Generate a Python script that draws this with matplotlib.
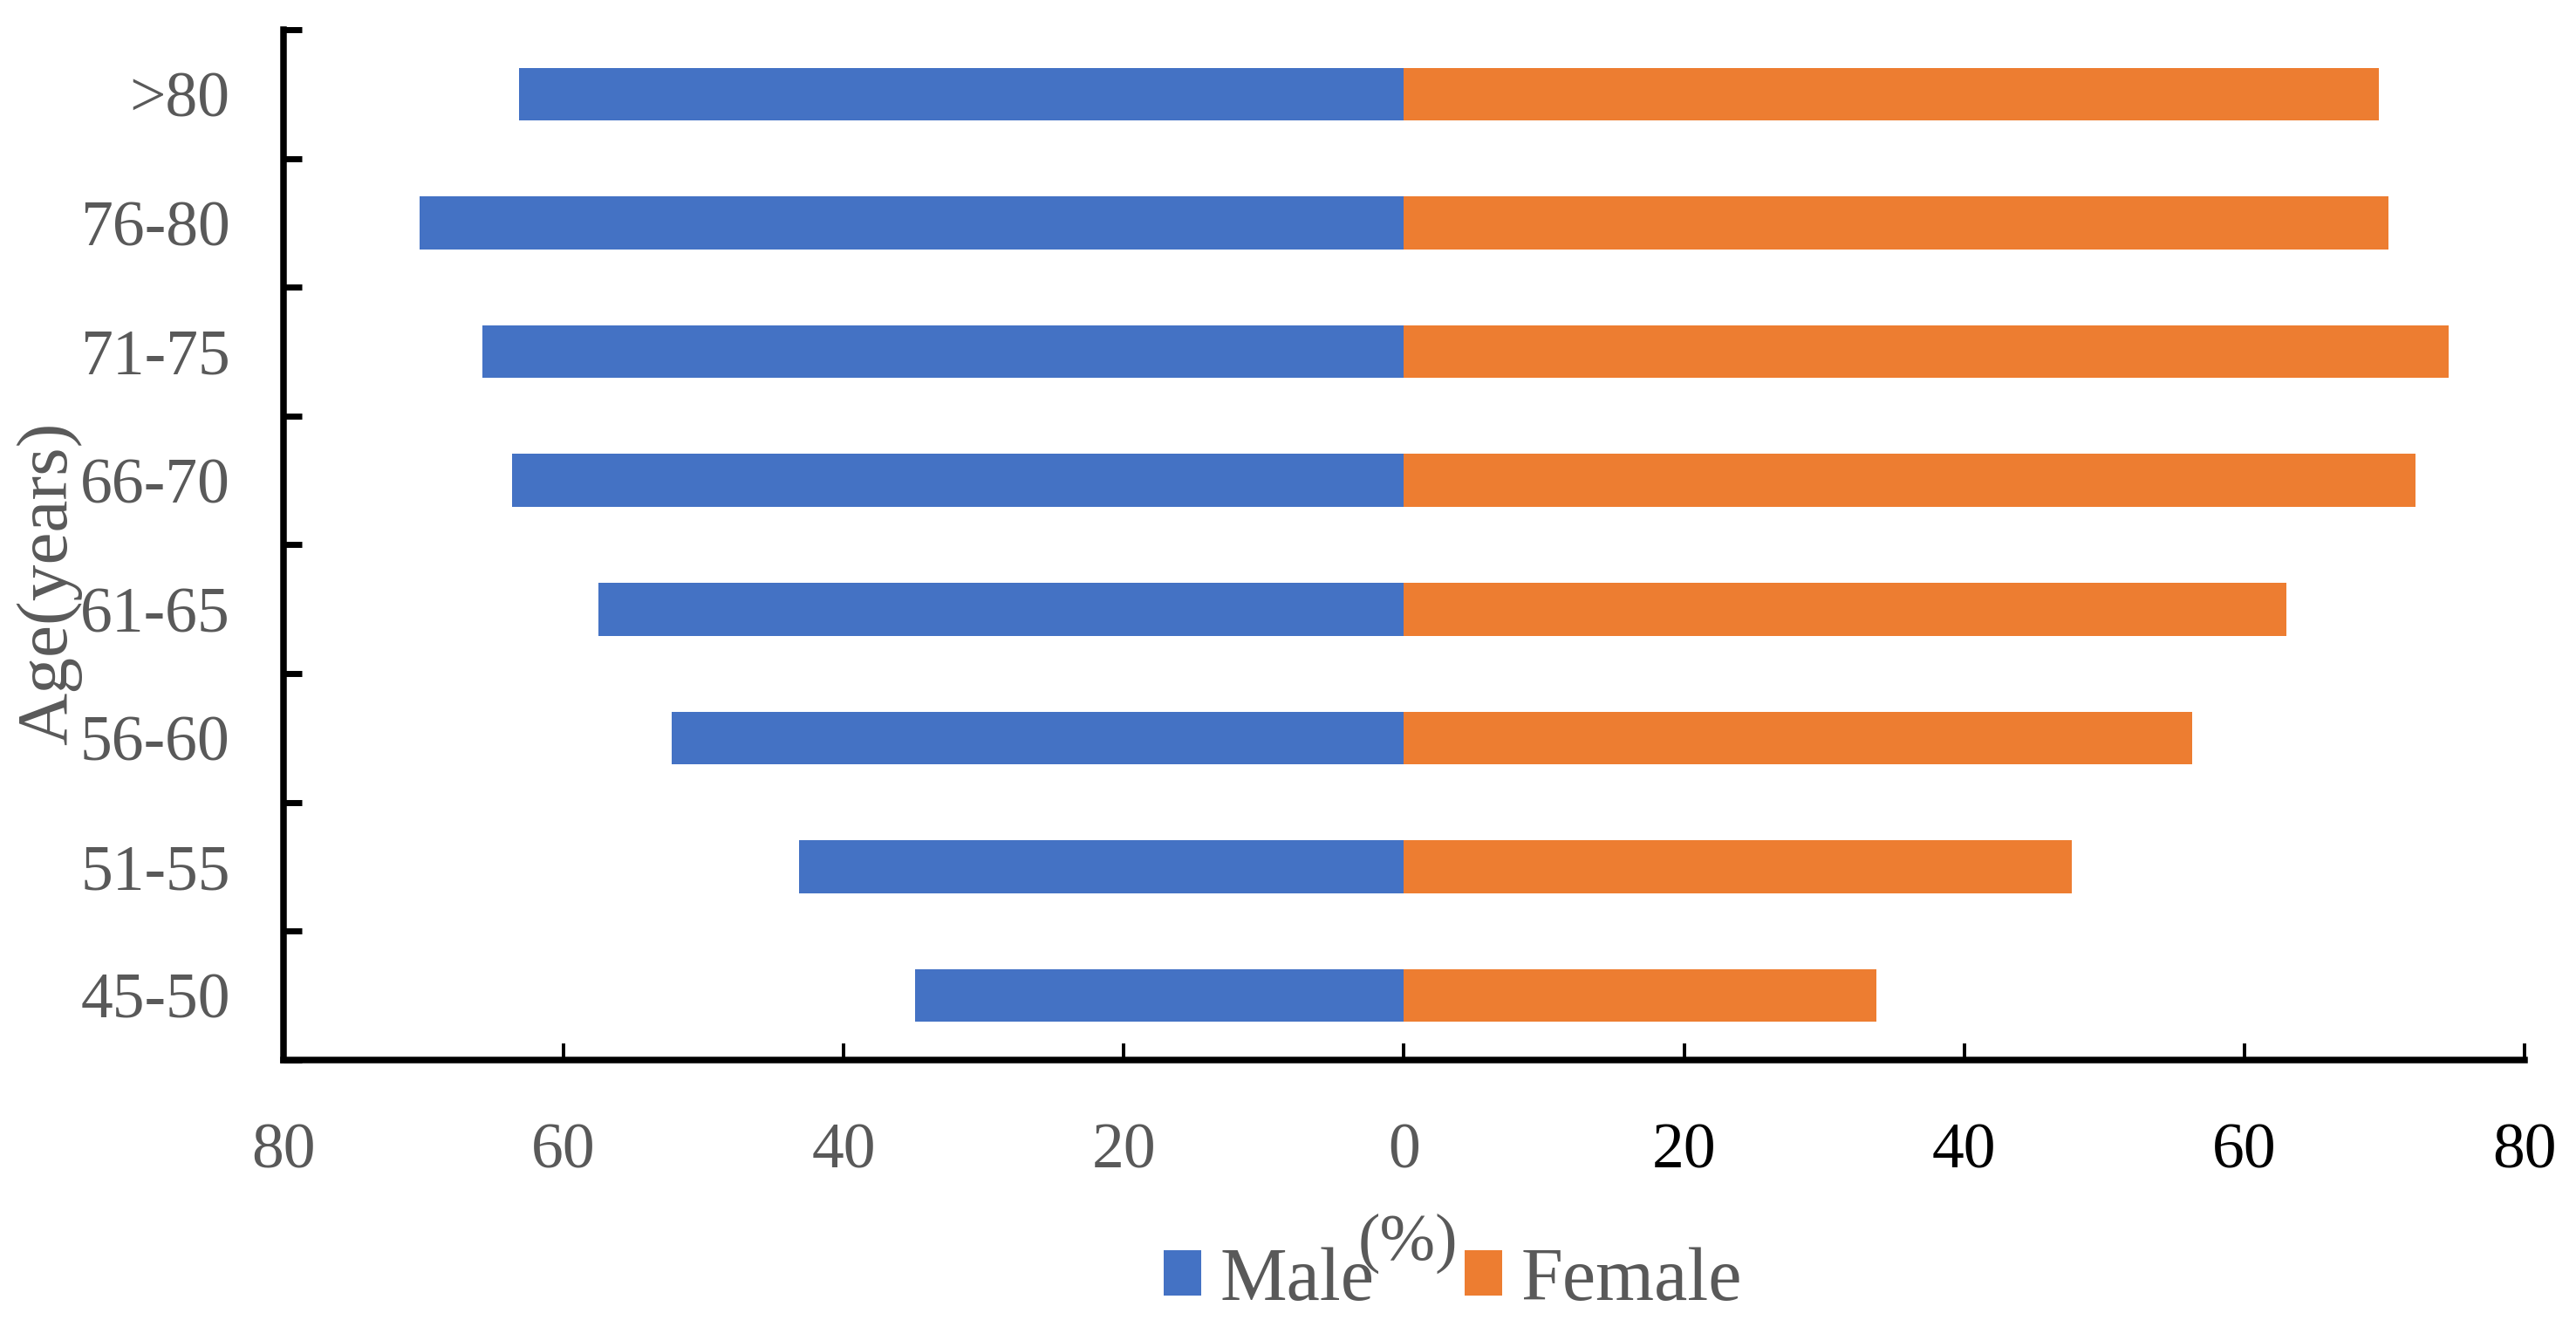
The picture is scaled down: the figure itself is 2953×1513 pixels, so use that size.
import matplotlib.pyplot as plt
import numpy as np

# data
age_groups = ['45-50', '51-55', '56-60', '61-65', '66-70', '71-75', '76-80', '>80']
male = [34.9, 43.2, 52.3, 57.5, 63.7, 65.8, 70.3, 63.2]
female = [33.7, 47.7, 56.3, 63.0, 72.2, 74.6, 70.3, 69.6]
x_ticks = [-80, -60, -40, -20, 0, 20, 40, 60, 80]

blue = '#4472C4'
orange = '#ED7D31'
grey = '#595959'

plt.rcParams['font.family'] = ['Liberation Serif', 'DejaVu Serif']

fig = plt.figure(figsize=(29.53, 15.13), dpi=100)
ax = fig.add_axes([0.110, 0.197, 0.870, 0.7805])

y = np.arange(len(age_groups))
ax.barh(y, -np.array(male), height=0.41, color=blue, label='Male')
ax.barh(y, female, height=0.41, color=orange, label='Female')

ax.set_xlim(-80, 80)
ax.set_ylim(-0.5, len(age_groups) - 0.5)

# spines
for side in ['top', 'right']:
    ax.spines[side].set_visible(False)
for side in ['left', 'bottom']:
    ax.spines[side].set_linewidth(5.4)
    ax.spines[side].set_color('black')

# y: ticks at category borders, labels at centres
ax.set_yticks(np.arange(-0.5, len(age_groups), 1.0))
ax.set_yticklabels([])
ax.set_yticks(y, minor=True)
ax.set_yticklabels(age_groups, minor=True)
ax.tick_params(axis='y', which='major', direction='in', length=15, width=5, color='black')
ax.tick_params(axis='y', which='minor', length=0, pad=44, labelsize=53, labelcolor=grey)

# x ticks
ax.set_xticks(x_ticks)
ax.set_xticklabels([str(abs(v)) for v in x_ticks])
ax.tick_params(axis='x', direction='in', length=14, width=2.8, color='black',
               pad=52, labelsize=53)
for lab, v in zip(ax.get_xticklabels(), x_ticks):
    lab.set_color(grey if v <= 0 else 'black')

fig.text(0.019, 0.558, 'Age(years)', rotation=90, ha='center', va='center',
         fontsize=60, color=grey)
fig.text(0.5466, 0.058, '(%)', ha='center', va='center', fontsize=55, color=grey)

leg = ax.legend(loc='center', bbox_to_anchor=(0.564, 0.029), bbox_transform=fig.transFigure,
                ncol=2, frameon=False, fontsize=62, handlelength=0.5, handleheight=0.55,
                handletextpad=0.25, columnspacing=1.2)
for t in leg.get_texts():
    t.set_color(grey)

fig.savefig('out.png', dpi=100)
